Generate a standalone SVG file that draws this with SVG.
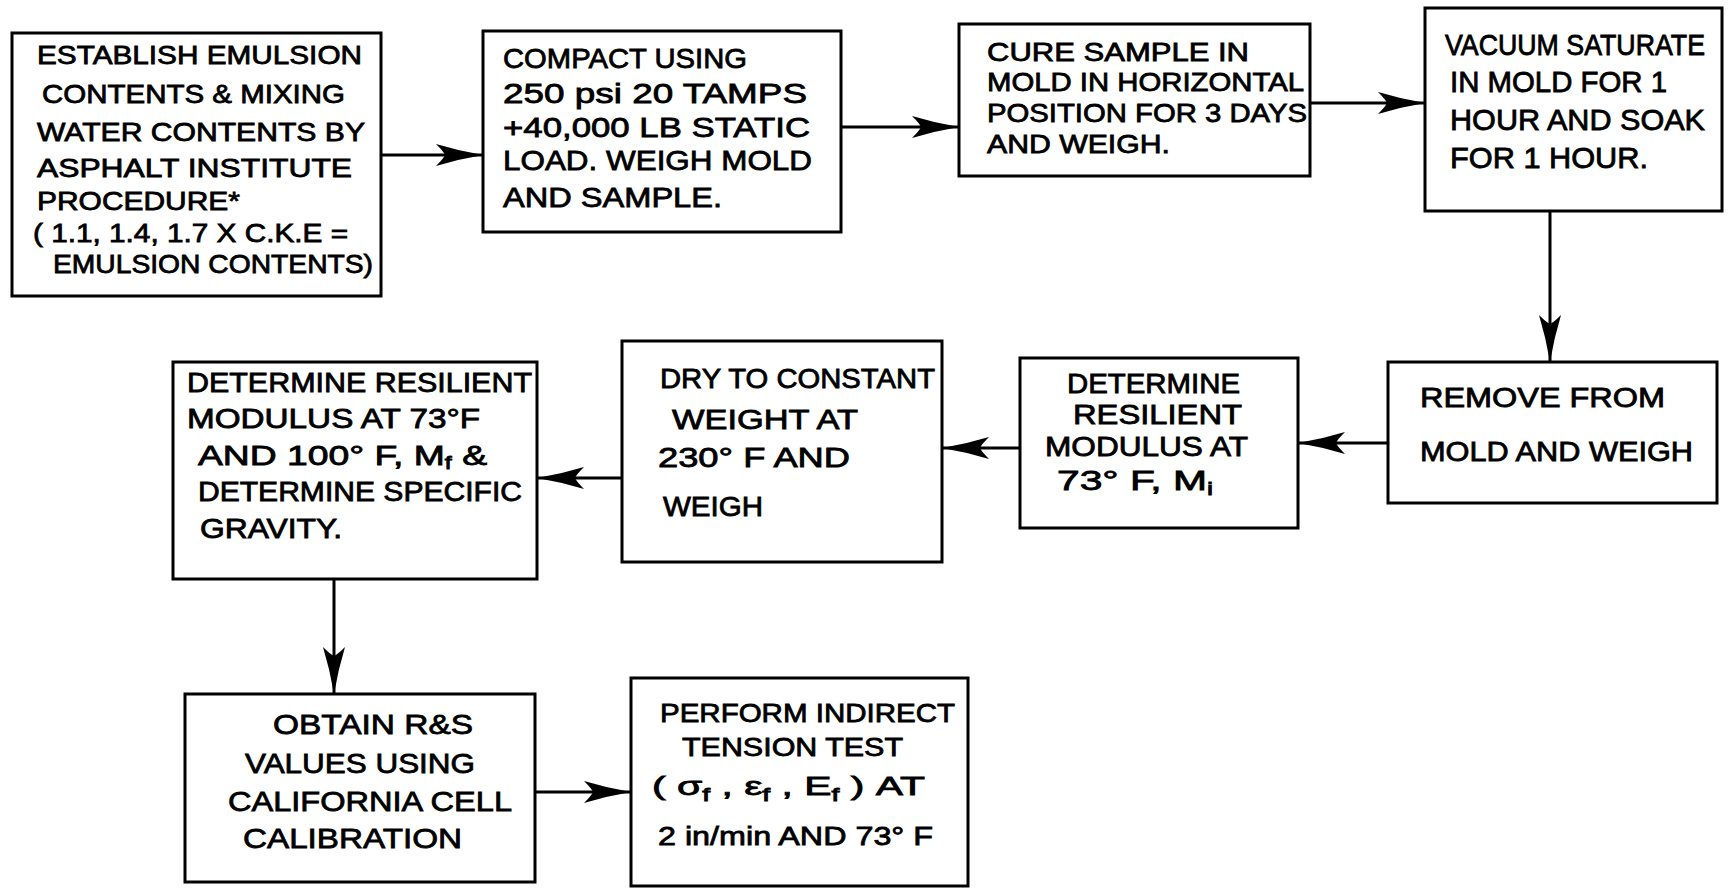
<svg xmlns="http://www.w3.org/2000/svg" width="1729" height="890" viewBox="0 0 1729 890">
<style>
.box{fill:#fff;stroke:#000;stroke-width:3}
.t{font-family:"Liberation Sans",Arial,sans-serif;fill:#000;stroke:#000;stroke-width:0.8}
.f25{font-size:25px}.f26{font-size:26px}.f27{font-size:27px}.f28{font-size:28px}.f29{font-size:29px}
.sub{font-size:18px}
.c{stroke:#000;stroke-width:3;fill:none;marker-end:url(#ah)}
</style>
<defs>
<marker id="ah" markerUnits="userSpaceOnUse" viewBox="-48 -13 49 26" refX="0" refY="0" markerWidth="49" markerHeight="26" orient="auto">
<path d="M0,0 Q-24,-4 -47,-11 Q-39,-3 -38,0 Q-39,3 -47,11 Q-24,4 0,0 Z" fill="#000"/>
</marker>
</defs>
<rect width="1729" height="890" fill="#fff"/>
<g id="connectors">
<line class="c" x1="381" y1="155" x2="483" y2="155"/>
<line class="c" x1="841" y1="127" x2="959" y2="127"/>
<line class="c" x1="1310" y1="103" x2="1425" y2="103"/>
<line class="c" x1="1550" y1="211" x2="1550" y2="362"/>
<line class="c" x1="1388" y1="443" x2="1298" y2="443"/>
<line class="c" x1="1020" y1="448" x2="942" y2="448"/>
<line class="c" x1="622" y1="478" x2="537" y2="478"/>
<line class="c" x1="334" y1="579" x2="334" y2="694"/>
<line class="c" x1="535" y1="792" x2="631" y2="792"/>
</g>
<g id="establish">
<rect class="box" x="12" y="33" width="369" height="263"/>
<text class="t f26" x="37" y="64" textLength="325" lengthAdjust="spacingAndGlyphs">ESTABLISH EMULSION</text>
<text class="t f26" x="42" y="103" textLength="303" lengthAdjust="spacingAndGlyphs">CONTENTS &amp; MIXING</text>
<text class="t f26" x="37" y="141" textLength="328" lengthAdjust="spacingAndGlyphs">WATER CONTENTS BY</text>
<text class="t f26" x="37" y="177" textLength="315" lengthAdjust="spacingAndGlyphs">ASPHALT INSTITUTE</text>
<text class="t f26" x="37" y="210" textLength="203" lengthAdjust="spacingAndGlyphs">PROCEDURE*</text>
<text class="t f26" x="33" y="242" textLength="315" lengthAdjust="spacingAndGlyphs">( 1.1, 1.4, 1.7 X C.K.E =</text>
<text class="t f26" x="53" y="273" textLength="320" lengthAdjust="spacingAndGlyphs">EMULSION CONTENTS)</text>
</g>
<g id="compact">
<rect class="box" x="483" y="31" width="358" height="201"/>
<text class="t f28" x="503" y="68" textLength="244" lengthAdjust="spacingAndGlyphs">COMPACT USING</text>
<text class="t f28" x="503" y="103" textLength="304" lengthAdjust="spacingAndGlyphs">250 psi 20 TAMPS</text>
<text class="t f28" x="503" y="137" textLength="307" lengthAdjust="spacingAndGlyphs">+40,000 LB STATIC</text>
<text class="t f28" x="503" y="170" textLength="309" lengthAdjust="spacingAndGlyphs">LOAD. WEIGH MOLD</text>
<text class="t f28" x="503" y="207" textLength="219" lengthAdjust="spacingAndGlyphs">AND SAMPLE.</text>
</g>
<g id="cure">
<rect class="box" x="959" y="24" width="351" height="152"/>
<text class="t f26" x="987" y="61" textLength="262" lengthAdjust="spacingAndGlyphs">CURE SAMPLE IN</text>
<text class="t f26" x="987" y="91" textLength="317" lengthAdjust="spacingAndGlyphs">MOLD IN HORIZONTAL</text>
<text class="t f26" x="987" y="122" textLength="320" lengthAdjust="spacingAndGlyphs">POSITION FOR 3 DAYS</text>
<text class="t f26" x="987" y="153" textLength="183" lengthAdjust="spacingAndGlyphs">AND WEIGH.</text>
</g>
<g id="vacuum">
<rect class="box" x="1425" y="8" width="297" height="203"/>
<text class="t f29" x="1445" y="55" textLength="260" lengthAdjust="spacingAndGlyphs">VACUUM SATURATE</text>
<text class="t f29" x="1450" y="92" textLength="217" lengthAdjust="spacingAndGlyphs">IN MOLD FOR 1</text>
<text class="t f29" x="1450" y="130" textLength="255" lengthAdjust="spacingAndGlyphs">HOUR AND SOAK</text>
<text class="t f29" x="1450" y="168" textLength="198" lengthAdjust="spacingAndGlyphs">FOR 1 HOUR.</text>
</g>
<g id="remove">
<rect class="box" x="1388" y="362" width="329" height="141"/>
<text class="t f27" x="1420" y="407" textLength="245" lengthAdjust="spacingAndGlyphs">REMOVE FROM</text>
<text class="t f27" x="1420" y="461" textLength="273" lengthAdjust="spacingAndGlyphs">MOLD AND WEIGH</text>
</g>
<g id="determine-mi">
<rect class="box" x="1020" y="358" width="278" height="170"/>
<text class="t f27" x="1067" y="393" textLength="173" lengthAdjust="spacingAndGlyphs">DETERMINE</text>
<text class="t f27" x="1073" y="424" textLength="169" lengthAdjust="spacingAndGlyphs">RESILIENT</text>
<text class="t f27" x="1045" y="456" textLength="203" lengthAdjust="spacingAndGlyphs">MODULUS AT</text>
<text class="t f27" x="1057" y="490" textLength="156" lengthAdjust="spacingAndGlyphs">73° F, M<tspan class="sub" dy="5">i</tspan></text>
</g>
<g id="dry">
<rect class="box" x="622" y="341" width="320" height="221"/>
<text class="t f27" x="660" y="388" textLength="275" lengthAdjust="spacingAndGlyphs">DRY TO CONSTANT</text>
<text class="t f27" x="672" y="429" textLength="186" lengthAdjust="spacingAndGlyphs">WEIGHT AT</text>
<text class="t f27" x="658" y="467" textLength="192" lengthAdjust="spacingAndGlyphs">230° F AND</text>
<text class="t f27" x="663" y="516" textLength="100" lengthAdjust="spacingAndGlyphs">WEIGH</text>
</g>
<g id="determine-mf">
<rect class="box" x="173" y="362" width="364" height="217"/>
<text class="t f27" x="187" y="392" textLength="345" lengthAdjust="spacingAndGlyphs">DETERMINE RESILIENT</text>
<text class="t f27" x="187" y="428" textLength="293" lengthAdjust="spacingAndGlyphs">MODULUS AT 73°F</text>
<text class="t f27" x="198" y="465" textLength="289" lengthAdjust="spacingAndGlyphs">AND 100° F, M<tspan class="sub" dy="4">f</tspan><tspan dy="-4"> &amp;</tspan></text>
<text class="t f27" x="198" y="501" textLength="324" lengthAdjust="spacingAndGlyphs">DETERMINE SPECIFIC</text>
<text class="t f27" x="200" y="538" textLength="142" lengthAdjust="spacingAndGlyphs">GRAVITY.</text>
</g>
<g id="obtain">
<rect class="box" x="185" y="694" width="350" height="188"/>
<text class="t f28" x="273" y="734" textLength="200" lengthAdjust="spacingAndGlyphs">OBTAIN R&amp;S</text>
<text class="t f28" x="245" y="773" textLength="230" lengthAdjust="spacingAndGlyphs">VALUES USING</text>
<text class="t f28" x="228" y="811" textLength="284" lengthAdjust="spacingAndGlyphs">CALIFORNIA CELL</text>
<text class="t f28" x="243" y="848" textLength="219" lengthAdjust="spacingAndGlyphs">CALIBRATION</text>
</g>
<g id="perform">
<rect class="box" x="631" y="678" width="337" height="208"/>
<text class="t f26" x="660" y="722" textLength="295" lengthAdjust="spacingAndGlyphs">PERFORM INDIRECT</text>
<text class="t f26" x="682" y="756" textLength="221" lengthAdjust="spacingAndGlyphs">TENSION TEST</text>
<text class="t f26" x="652" y="795" textLength="273" lengthAdjust="spacingAndGlyphs">( σ<tspan class="sub" dy="6">f</tspan><tspan dy="-6"> , ε</tspan><tspan class="sub" dy="6">f</tspan><tspan dy="-6"> , E</tspan><tspan class="sub" dy="6">f</tspan><tspan dy="-6"> ) AT</tspan></text>
<text class="t f26" x="658" y="845" textLength="275" lengthAdjust="spacingAndGlyphs">2 in/min AND 73° F</text>
</g>
</svg>
